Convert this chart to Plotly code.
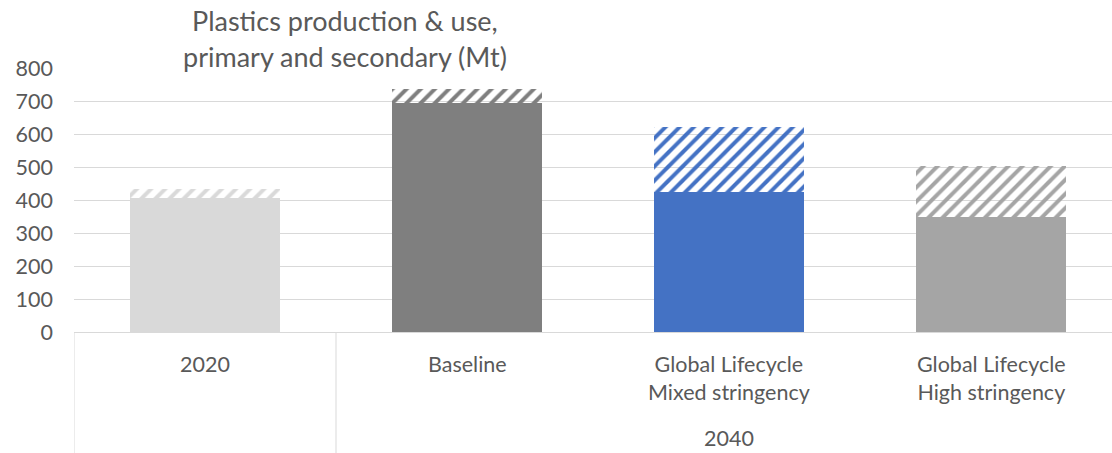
import plotly.graph_objects as go

# ---- data ----
categories = ["2020", "Baseline", "Global Lifecycle<br>Mixed stringency", "Global Lifecycle<br>High stringency"]
outer_groups = ["", "2040"]            # outer label row (2020 stands alone)
outer_members = [[0], [1, 2, 3]]
primary = [407, 695, 425, 348]          # solid part (Mt)
secondary = [26, 42, 197, 156]          # hatched part (Mt)
bar_colors = ["#D9D9D9", "#7F7F7F", "#4472C4", "#A5A5A5"]
y_ticks = [0, 100, 200, 300, 400, 500, 600, 700, 800]
title_lines = ["Plastics production & use,", "primary and secondary (Mt)"]

FONT = "Lato"
TXT = "#595959"
GRID = "#D9D9D9"

W, H = 1112, 453
ML, MR, MT, MB = 74, 0, 68, 121
plot_h = H - MT - MB
plot_w = W - ML - MR
px_per_cat = 262.0

xpos = list(range(len(categories)))

fig = go.Figure()
fig.add_bar(
    x=xpos, y=primary, width=0.57,
    marker=dict(color=bar_colors, line=dict(width=0)),
    showlegend=False, hoverinfo="skip",
)
fig.add_bar(
    x=xpos, y=secondary, width=0.57,
    marker=dict(
        color=bar_colors, line=dict(width=0),
        pattern=dict(shape="/", fgcolor=bar_colors, bgcolor="white",
                     size=10, solidity=0.4, fillmode="replace"),
    ),
    showlegend=False, hoverinfo="skip",
)

x_end = -0.5 + plot_w / px_per_cat

fig.update_layout(
    width=W, height=H,
    margin=dict(l=ML, r=MR, t=MT, b=MB, pad=0),
    barmode="stack",
    plot_bgcolor="white", paper_bgcolor="white",
    font=dict(family=FONT, color=TXT, size=21.5),
    xaxis=dict(range=[-0.5, x_end], showgrid=False, zeroline=False,
               showticklabels=False, showline=True, linecolor=GRID, linewidth=1,
               fixedrange=True),
    yaxis=dict(range=[0, 800], tickvals=y_ticks, showgrid=True, gridcolor=GRID,
               gridwidth=1, zeroline=False, showline=False,
               ticklabelstandoff=20, tickfont=dict(size=21.5, color=TXT, family=FONT),
               fixedrange=True),
)

# chart title, one annotation per line
title_centers = [20, 56]   # vertical centres of the two title lines (px from top)
for line, yc in zip(title_lines, title_centers):
    fig.add_annotation(x=(345 - ML) / plot_w, y=1, xref="paper", yref="paper",
                       text=line, showarrow=False, xanchor="center",
                       yanchor="middle", yshift=MT - yc,
                       font=dict(size=27, color=TXT, family=FONT))

# inner category labels
for i, lab in enumerate(categories):
    fig.add_annotation(x=i, y=0, xref="x", yref="paper", text=lab,
                       showarrow=False, yanchor="top", yshift=-17,
                       font=dict(size=21.5, color=TXT, family=FONT))

# outer group labels
for grp, members in zip(outer_groups, outer_members):
    if grp:
        cx = sum(members) / len(members)
        fig.add_annotation(x=cx, y=0, xref="x", yref="paper", text=grp,
                           showarrow=False, yanchor="top", yshift=-91,
                           font=dict(size=21.5, color=TXT, family=FONT))

# group dividers (left edge and between groups)
bottom = -MB / plot_h
for members in outer_members:
    xb = members[0] - 0.5
    fig.add_shape(type="line", xref="x", yref="paper", x0=xb, x1=xb,
                  y0=0, y1=bottom, line=dict(color=GRID, width=1))

# remove the default 8px page margin so the figure fills the window
fig.write_html("out.html", config={"displayModeBar": False},
               post_script="document.body.style.margin='0';")
